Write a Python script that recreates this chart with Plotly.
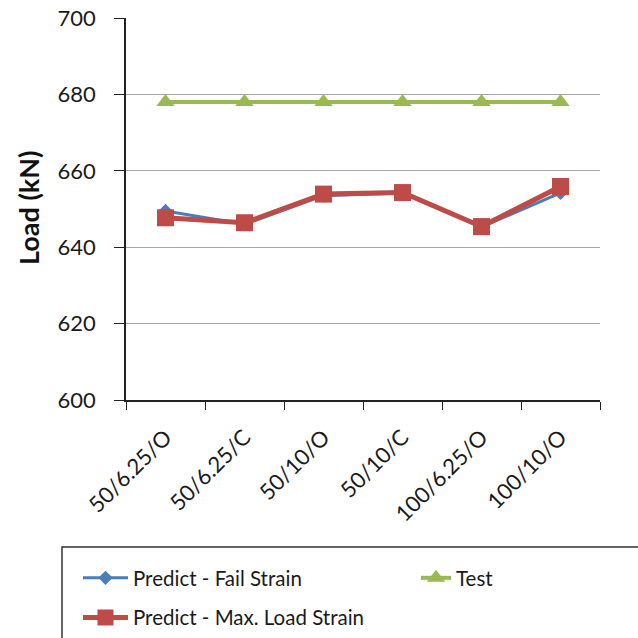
import plotly.graph_objects as go

categories = ["50/6.25/O", "50/6.25/C", "50/10/O", "50/10/C", "100/6.25/O", "100/10/O"]
fail_strain = [649.5, 646.0, 653.5, 654.2, 645.3, 654.2]
max_load_strain = [647.7, 646.4, 653.9, 654.3, 645.4, 655.9]
test = [678.0, 678.0, 678.0, 678.0, 678.0, 678.0]
y_ticks = [600, 620, 640, 660, 680, 700]
y_title = "Load (kN)"

FONT = "Lato, Open Sans, sans-serif"
W, H = 638, 638
L, R, T, B = 126, 38, 18, 238
PW, PH = W - L - R, H - T - B


def px_x(px):
    return (px - L) / PW


def px_y(py):
    return (H - B - py) / PH


fig = go.Figure()
fig.add_trace(go.Scatter(
    x=categories, y=fail_strain, name="Predict - Fail Strain", mode="lines+markers",
    line=dict(color="#4a7ebb", width=3),
    marker=dict(symbol="diamond", size=11, color="#4a7ebb"),
    legend="legend", legendgroup="a",
))
fig.add_trace(go.Scatter(
    x=categories, y=test, name="Test", mode="lines+markers",
    line=dict(color="#98b954", width=4),
    marker=dict(symbol="triangle-up", size=16, color="#98b954"),
    legend="legend2", legendgroup="c",
))
fig.add_trace(go.Scatter(
    x=categories, y=max_load_strain, name="Predict - Max. Load Strain", mode="lines+markers",
    line=dict(color="#be4b48", width=5),
    marker=dict(symbol="square", size=17, color="#be4b48"),
    legend="legend", legendgroup="b",
))

legend_font = dict(size=20.5, family=FONT, color="#1a1a1a")

fig.update_layout(
    width=W, height=H,
    margin=dict(l=L, r=R, t=T, b=B, autoexpand=False),
    plot_bgcolor="white", paper_bgcolor="white",
    font=dict(family=FONT, color="#1a1a1a", size=19),
    showlegend=True,
    legend=dict(
        orientation="v", xref="container", yref="container",
        x=78 / W, xanchor="left", y=(H - 558) / H, yanchor="top",
        bgcolor="rgba(0,0,0,0)", borderwidth=0,
        traceorder="grouped", tracegroupgap=10, itemwidth=45,
        font=legend_font,
    ),
    legend2=dict(
        orientation="v", xref="container", yref="container",
        x=416 / W, xanchor="left", y=(H - 558) / H, yanchor="top",
        bgcolor="rgba(0,0,0,0)", borderwidth=0,
        font=legend_font,
    ),
    shapes=[dict(
        type="rect", xref="paper", yref="paper",
        x0=px_x(62), x1=px_x(660), y0=px_y(660), y1=px_y(547),
        line=dict(color="#333", width=1.5), fillcolor="rgba(0,0,0,0)", layer="below",
    )],
    annotations=[dict(
        text=f"<b>{y_title}</b>", xref="paper", yref="paper",
        x=px_x(28), y=px_y(208), xanchor="center", yanchor="middle",
        textangle=-90, showarrow=False,
        font=dict(size=27, family=FONT, color="#111"),
    )],
    xaxis=dict(
        type="category", tickson="boundaries", ticks="outside", ticklen=8, tickcolor="#222",
        showline=True, linecolor="#222", linewidth=1.5, showgrid=False,
        tickangle=-45, tickfont=dict(size=22, family=FONT, color="#1a1a1a"),
        ticklabelstandoff=14, automargin=False,
        range=[-0.5, 5.5],
    ),
    yaxis=dict(
        range=[600, 700], tickvals=y_ticks,
        ticks="outside", ticklen=10, tickcolor="#222",
        showline=True, linecolor="#222", linewidth=1.5,
        showgrid=True, gridcolor="#a6a6a6", gridwidth=1.2, zeroline=False,
        tickfont=dict(size=22, family=FONT, color="#1a1a1a"),
        ticklabelstandoff=14, automargin=False,
    ),
)

fig.write_html("out.html")
